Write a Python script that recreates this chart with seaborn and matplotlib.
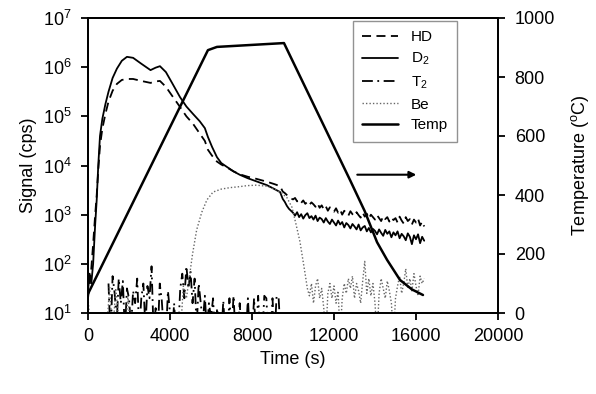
import numpy as np
import matplotlib
matplotlib.use("Agg")
import matplotlib.pyplot as plt
from matplotlib.ticker import LogLocator, LogFormatterMathtext, NullLocator
import seaborn as sns

# --- data (signals as log10 counts) ---
main_t = [0, 80, 160, 250, 350, 425, 500, 585, 700, 850, 1000, 1200, 1410, 1650,
          1900, 2200, 2600, 3050, 3300, 3510, 3800, 4100, 4490, 4800, 5120, 5450,
          5700, 5850, 6050, 6290, 6500, 6780, 7100, 7410, 7800, 8200, 8730, 9100, 9370]
d2_main = [1.45, 1.8, 1.6, 2.0, 2.8, 3.3, 4.0, 4.6, 4.95, 5.25, 5.5, 5.78, 5.97, 6.13,
           6.21, 6.19, 6.07, 5.94, 5.99, 6.02, 5.9, 5.68, 5.39, 5.2, 5.05, 4.9,
           4.76, 4.58, 4.38, 4.17, 4.05, 3.97, 3.88, 3.81, 3.74, 3.68, 3.6, 3.52, 3.46]
hd_main = [1.3, 1.6, 1.9, 2.4, 3.0, 3.4, 3.9, 4.4, 4.75, 5.05, 5.3, 5.52, 5.66, 5.74,
           5.76, 5.76, 5.72, 5.68, 5.71, 5.72, 5.6, 5.42, 5.19, 5.0, 4.85, 4.65,
           4.5, 4.32, 4.2, 4.08, 4.02, 3.96, 3.88, 3.82, 3.77, 3.73, 3.67, 3.62, 3.58]

# noisy tails, 100 s sampling
tail_t = np.arange(9500, 16401, 100)
d2_tail = [3.32, 3.26, 3.18, 3.12, 3.08,
           3.04, 2.98, 3.05, 2.95, 3.01, 2.92, 2.99, 3.03, 2.93, 2.97,
           2.90, 2.98, 2.87, 2.94, 2.91, 2.84, 2.93, 2.86, 2.81, 2.90,
           2.84, 2.78, 2.88, 2.80, 2.85, 2.74, 2.83, 2.79, 2.72, 2.81,
           2.76, 2.70, 2.80, 2.68, 2.74, 2.77, 2.66, 2.73, 2.64, 2.71,
           2.67, 2.60, 2.70, 2.63, 2.57, 2.69, 2.61, 2.66, 2.54, 2.64,
           2.58, 2.66, 2.52, 2.61, 2.56, 2.48, 2.62, 2.55, 2.40, 2.58,
           2.50, 2.60, 2.42, 2.55, 2.47]
hd_tail = [3.47, 3.44, 3.40, 3.36, 3.33,
           3.31, 3.34, 3.27, 3.30, 3.24, 3.29, 3.22, 3.26, 3.20, 3.25,
           3.21, 3.16, 3.23, 3.14, 3.19, 3.11, 3.17, 3.08, 3.15, 3.10,
           3.06, 3.13, 3.04, 3.10, 3.00, 3.08, 3.03, 2.98, 3.07, 3.01,
           2.97, 3.05, 2.99, 2.94, 3.04, 2.96, 3.02, 2.92, 3.00, 2.95,
           2.90, 2.99, 2.93, 2.87, 2.97, 2.91, 2.95, 2.86, 2.94, 2.89,
           2.93, 2.84, 2.96, 2.88, 2.82, 2.95, 2.87, 2.91, 2.80, 2.90,
           2.84, 2.92, 2.78, 2.86, 2.76]

t2_t = np.arange(1000, 9401, 100)
t2_log = [1.6, 0.5, 1.75, 1.4, 0.8, 1.7, 1.2, 1.65, 0.6, 1.5,
          1.3, 0.7, 1.45, 1.2, 1.7, 0.6, 1.3, 1.6, 0.7, 1.55,
          1.3, 1.95, 0.6, 1.1, 0.5, 1.6, 1.25, 0.6, 0.5, 1.45,
          1.0, 0.5, 1.2, 0.5, 0.6, 1.5, 1.8, 1.3, 1.95, 1.5,
          1.85, 1.2, 1.7, 0.7, 1.6, 1.2, 0.8, 1.35, 0.6, 1.2,
          0.9, 1.3, 0.5, 1.1, 0.6, 0.5, 1.25, 0.5, 0.5, 1.3,
          0.6, 1.35, 0.5, 0.5, 1.2, 0.5, 0.5, 0.5, 1.3, 0.5,
          0.5, 1.3, 0.5, 1.35, 0.5, 0.5, 1.35, 1.3, 0.5, 0.5,
          1.3, 0.5, 1.35, 1.3, 0.5]

be_t = [0, 150, 300, 450, 600, 750, 900, 1050, 1200, 1350, 1500, 1650, 1800, 1950,
        2100, 2400, 3000, 3600, 4200, 4500, 4650, 4800, 4950, 5100, 5300, 5550,
        5800, 6100, 6500, 6930, 7400, 7750, 8200, 8700, 9100, 9400, 9700, 9950,
        10150, 10340, 10590, 10700]
be_log = [1.3, 0.5, 0.5, 0.5, 0.5, 0.5, 0.5, 1.55, 0.5, 1.5, 0.9, 0.5, 0.5, 1.35,
          0.5, 0.5, 0.5, 0.5, 0.5, 0.5, 1.55, 1.3, 1.75, 2.2, 2.69, 3.05,
          3.3, 3.46, 3.52, 3.55, 3.57, 3.59, 3.6, 3.58, 3.52, 3.45, 3.35, 3.15,
          2.8, 2.45, 1.8, 1.5]
be_tail_t = np.arange(10800, 16401, 100)
be_tail = [1.35, 1.6, 1.2, 1.55, 1.7, 1.3, 1.5, 1.1, 0.5, 1.4,
           1.6, 1.3, 1.55, 1.2, 1.45, 0.5, 1.3, 1.6, 1.4, 1.7,
           1.5, 1.75, 1.3, 1.6, 1.45, 1.2, 1.65, 2.05, 1.4, 1.7,
           1.35, 1.6, 1.2, 0.5, 1.4, 1.7, 1.5, 1.3, 1.65, 1.45,
           1.2, 0.5, 1.3, 1.55, 1.75, 1.4, 1.6, 1.9, 1.5, 1.7,
           1.45, 1.8, 1.55, 1.35, 1.75, 1.6, 1.7]

temp_t = [0, 5850, 6290, 9560, 12780, 13500, 14100, 14590, 15220, 15800, 16340]
temp_c = [65, 891, 902, 915, 451, 345, 240, 180, 112, 80, 61]

arrow_y = 6.5e3
arrow_x = (13000, 16150)

# --- style ---
sns.set_style("ticks")
plt.rcParams["font.family"] = ["Liberation Sans", "DejaVu Sans"]
plt.rcParams["mathtext.default"] = "regular"
plt.rcParams["text.color"] = "black"
plt.rcParams["axes.labelcolor"] = "black"
plt.rcParams["xtick.color"] = "black"
plt.rcParams["ytick.color"] = "black"
plt.rcParams["axes.linewidth"] = 1.3
plt.rcParams["xtick.major.width"] = 1.3
plt.rcParams["ytick.major.width"] = 1.3
plt.rcParams["xtick.major.size"] = 5
plt.rcParams["ytick.major.size"] = 5
plt.rcParams["xtick.major.pad"] = 6
plt.rcParams["ytick.major.pad"] = 7

fig = plt.figure(figsize=(5.96, 3.94), dpi=100)
ax = fig.add_axes([88 / 596, 1 - 313 / 394, 410 / 596, 295 / 394])
ax2 = ax.twinx()

sig_t = list(main_t) + list(tail_t)
hd = 10 ** np.array(hd_main + hd_tail)
d2 = 10 ** np.array(d2_main + d2_tail)
t2 = 10 ** np.array(t2_log)
be = 10 ** np.array(be_log + be_tail)
be_all_t = list(be_t) + list(be_tail_t)

sns.lineplot(x=sig_t, y=hd, ax=ax, color="k", lw=1.3, linestyle=(0, (5, 3)), label="HD", sort=False)
sns.lineplot(x=sig_t, y=d2, ax=ax, color="k", lw=1.3, linestyle="-", label="D$_2$", sort=False)
sns.lineplot(x=t2_t, y=t2, ax=ax, color="k", lw=1.3, linestyle=(0, (6, 2.5, 1, 2.5)), label="T$_2$", sort=False)
sns.lineplot(x=be_all_t, y=be, ax=ax, color="#666666", lw=1.0, linestyle=(0, (1, 1.5)), label="Be", sort=False)
sns.lineplot(x=temp_t, y=temp_c, ax=ax2, color="k", lw=1.8, label="Temp", sort=False)

ax.set_yscale("log")
ax.set_ylim(10, 1e7)
ax.set_xlim(0, 20000)
ax.set_xticks([0, 4000, 8000, 12000, 16000, 20000])
ax.yaxis.set_major_locator(LogLocator(base=10, numticks=10))
ax.yaxis.set_major_formatter(LogFormatterMathtext())
ax.yaxis.set_minor_locator(NullLocator())
ax2.set_ylim(0, 1000)
ax2.set_yticks([0, 200, 400, 600, 800, 1000])

ax.set_xlabel("Time (s)", fontsize=13)
ax.set_ylabel("Signal (cps)", fontsize=13)
ax2.set_ylabel("Temperature ($^{o}$C)", fontsize=13, labelpad=10)
ax.tick_params(labelsize=13)
ax2.tick_params(labelsize=13)
for a in (ax, ax2):
    for s in a.spines.values():
        s.set_visible(True)
        s.set_color("k")

ax.annotate("", xy=(arrow_x[1], arrow_y), xytext=(arrow_x[0], arrow_y),
            arrowprops=dict(arrowstyle="-|>", lw=1.5, color="k", mutation_scale=10))

h1, l1 = ax.get_legend_handles_labels()
h2, l2 = ax2.get_legend_handles_labels()
if ax.get_legend() is not None:
    ax.get_legend().remove()
if ax2.get_legend() is not None:
    ax2.get_legend().remove()
leg = ax2.legend(h1 + h2, l1 + l2, loc="upper right", bbox_to_anchor=(0.9, 0.99),
                 fontsize=11, frameon=True, fancybox=False, edgecolor="#777777",
                 handlelength=2.4, borderaxespad=0, borderpad=0.6, labelspacing=0.45)
leg.get_frame().set_linewidth(1.0)

fig.savefig("out.png", dpi=100)
